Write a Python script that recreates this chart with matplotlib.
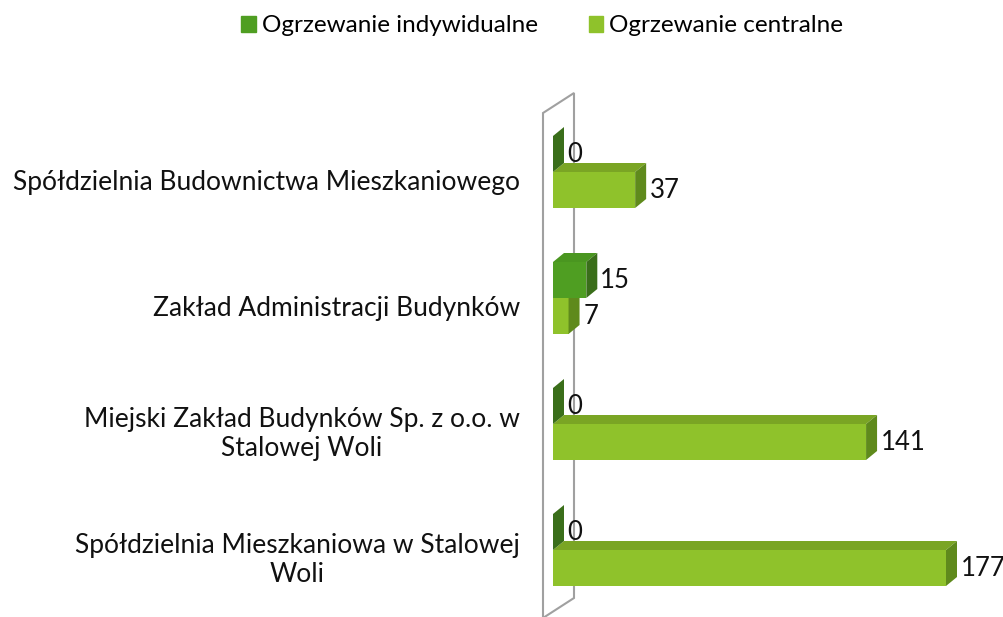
import matplotlib
matplotlib.use("Agg")
import matplotlib.pyplot as plt
from matplotlib.patches import Polygon, Patch

plt.rcParams['font.family'] = ['Lato', 'DejaVu Sans']

# data
categories = ["Spółdzielnia Budownictwa Mieszkaniowego",
              "Zakład Administracji Budynków",
              "Miejski Zakład Budynków Sp. z o.o. w\nStalowej Woli",
              "Spółdzielnia Mieszkaniowa w Stalowej\nWoli"]
series_names = ["Ogrzewanie indywidualne", "Ogrzewanie centralne"]
individual = [0, 15, 0, 0]
central = [37, 7, 141, 177]

# colours: front, top, side
col_ind = ("#4f9e22", "#4a9620", "#3a6e1a")
col_cen = ("#8fc22b", "#7aa524", "#5f8a1c")

fig = plt.figure(figsize=(10.04, 6.17), dpi=100)
ax = fig.add_axes([500 / 1004, 0, 504 / 1004, 1])

s = 393 / 177          # pixels per unit on x
step = 126             # pixels per category
ax.set_xlim((500 - 553) / s, (1004 - 553) / s)
ax.set_ylim((617 - 172) / step, (0 - 172) / step)
ax.axis("off")

h = 36 / step          # bar thickness
dx = 11 / s            # depth offset
dy = -9 / step


def bar3d(v, y0, cols, z):
    # front face via barh, top and side faces as polygons
    yt, yb = y0, y0 + h
    ax.barh(y0, v, height=h, left=0, align="edge", color=cols[0], zorder=z)
    ax.add_patch(Polygon([(0, yt), (v, yt), (v + dx, yt + dy), (dx, yt + dy)],
                         closed=True, color=cols[1], zorder=z, lw=0))
    ax.add_patch(Polygon([(v, yt), (v, yb), (v + dx, yb + dy), (v + dx, yt + dy)],
                         closed=True, color=cols[2], zorder=z, lw=0))


# back wall outline
wx0, wx1 = -10 / s, 21 / s
wall = [(wx0, (618 - 172) / step), (wx0, (113 - 172) / step),
        (wx1, (93 - 172) / step), (wx1, (598 - 172) / step)]
ax.add_patch(Polygon(wall, closed=True, fill=False, edgecolor="#a0a0a0",
                     lw=1.5, zorder=1, clip_on=False))

fs = 19
for i, (vi, vc) in enumerate(zip(individual, central)):
    bar3d(vc, i, col_cen, 3)
    bar3d(vi, i - h, col_ind, 4)
    ax.text(vc + dx + 4 / s, i + h / 2, str(vc), ha="left", va="center",
            fontsize=18.5, color="#111111", zorder=6)
    ax.text(vi + dx + 3 / s, i - h / 2, str(vi), ha="left", va="center",
            fontsize=18.5, color="#111111", zorder=6)
    ax.text(-33 / s, i + 0.08, categories[i], ha="right", va="center",
            multialignment="center", fontsize=fs, color="#111111",
            clip_on=False, linespacing=1.2)

handles = [Patch(color=col_ind[0]), Patch(color=col_cen[0])]
fig.legend(handles, series_names, loc="center", bbox_to_anchor=(0.54, 0.958),
           ncol=2, frameon=False, fontsize=17.5, handlelength=0.6,
           handleheight=0.6, handletextpad=0.25, columnspacing=2.1)

fig.savefig("out.png", dpi=100)
